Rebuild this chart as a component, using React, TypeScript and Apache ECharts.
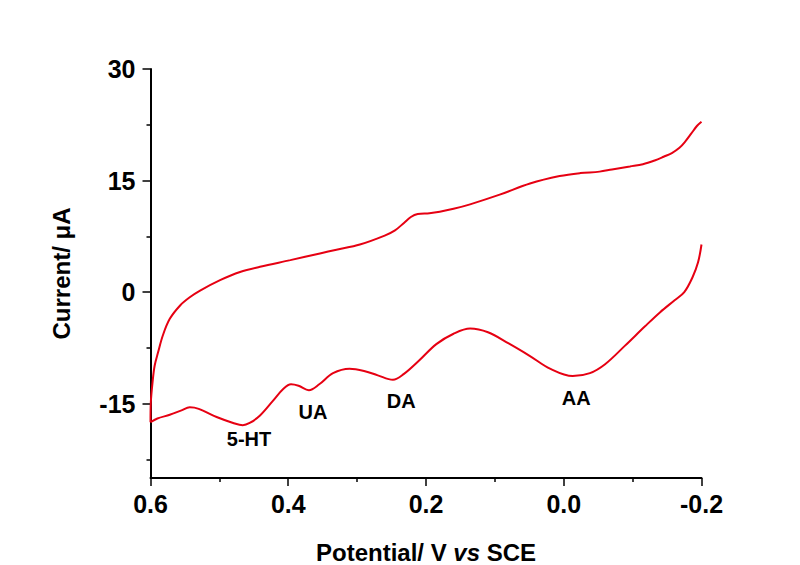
import React, { useEffect, useRef } from "react";
import * as echarts from "echarts";

// Forward (lower) branch: potential (V vs SCE) and current (µA)
const forwardPotential = [
  0.6, 0.59, 0.572, 0.555, 0.543, 0.53, 0.504, 0.48, 0.466, 0.456, 0.441, 0.422, 0.407, 0.396,
  0.385, 0.37, 0.355, 0.335, 0.311, 0.29, 0.27, 0.248, 0.232, 0.21, 0.185, 0.16, 0.136, 0.11,
  0.08, 0.049, 0.02, -0.013, -0.038, -0.06, -0.089, -0.118, -0.14, -0.161, -0.175, -0.187,
  -0.195, -0.2,
];
const forwardCurrent = [
  -17.5, -17.0, -16.5, -15.9, -15.5, -15.7, -16.8, -17.6, -17.9, -17.6, -16.6, -14.6, -13.0,
  -12.4, -12.6, -13.2, -12.4, -10.9, -10.3, -10.6, -11.2, -11.8, -11.0, -9.2, -7.0, -5.6, -4.9,
  -5.4, -6.9, -8.6, -10.3, -11.3, -10.9, -9.7, -7.2, -4.6, -2.7, -1.1, 0.0, 2.0, 4.0, 6.4,
];

// Reverse (upper) branch
const reversePotential = [
  -0.2, -0.193, -0.185, -0.176, -0.168, -0.157, -0.145, -0.132, -0.115, -0.096, -0.07, -0.052,
  -0.024, 0.006, 0.049, 0.093, 0.136, 0.16, 0.18, 0.195, 0.212, 0.222, 0.232, 0.245, 0.26, 0.296,
  0.33, 0.354, 0.397, 0.441, 0.47, 0.499, 0.528, 0.543, 0.557, 0.572, 0.582, 0.589, 0.594, 0.597,
  0.5995, 0.6,
];
const reverseCurrent = [
  22.9, 22.3, 21.3, 20.2, 19.4, 18.7, 18.2, 17.7, 17.2, 16.9, 16.5, 16.2, 16.0, 15.6, 14.6, 13.1,
  11.8, 11.2, 10.8, 10.6, 10.5, 10.1, 9.3, 8.3, 7.6, 6.4, 5.7, 5.2, 4.3, 3.4, 2.7, 1.6, 0.2, -0.7,
  -1.8, -3.6, -5.8, -8.1, -9.9, -12.1, -14.8, -17.5,
];

// Peak annotations
const peakLabels = ["5-HT", "UA", "DA", "AA"];
const peakLabelPotential = [0.457, 0.364, 0.236, -0.018];
const peakLabelCurrent = [-19.7, -16.1, -14.6, -14.2];

// Axis ticks
const yMajorTicks = [-15, 0, 15, 30];
const yMinorTicks = [-22.5, -7.5, 7.5, 22.5];
const xMinorTicks = [0.5, 0.3, 0.1, -0.1];

const FONT = "'Liberation Sans', Arial, sans-serif";
const RED = "#e60012";

export default function App() {
  const ref = useRef<HTMLDivElement>(null);

  useEffect(() => {
    if (!ref.current) return;
    const chart = echarts.init(ref.current, null, { renderer: "svg" });

    const fwd = forwardPotential.map((p, i) => [p, forwardCurrent[i]]);
    const rev = reversePotential.map((p, i) => [p, reverseCurrent[i]]);
    const labels = peakLabels.map((name, i) => ({
      name,
      value: [peakLabelPotential[i], peakLabelCurrent[i]],
    }));

    const tickStyle = { color: "#000", width: 1.5 };

    chart.setOption({
      animation: false,
      backgroundColor: "#ffffff",
      grid: {
        left: 150.5,
        right: 98.5,
        top: 69,
        bottom: 87,
        containLabel: false,
        outerBoundsMode: "none",
      },
      xAxis: [
        {
          type: "value",
          inverse: true,
          min: -0.2,
          max: 0.6,
          interval: 0.2,
          splitLine: { show: false },
          axisLine: { show: true, onZero: false, lineStyle: { color: "#000", width: 2 } },
          axisTick: { show: true, inside: false, length: 8, lineStyle: tickStyle },
          axisLabel: {
            margin: 13,
            color: "#000",
            fontFamily: FONT,
            fontWeight: "bold",
            fontSize: 25,
            formatter: (v: number) => (Math.abs(v) < 1e-9 ? "0.0" : v.toFixed(1)),
          },
          name: "Potential/ V {i|vs} SCE",
          nameLocation: "middle",
          nameGap: 62,
          nameTextStyle: {
            color: "#000",
            fontFamily: FONT,
            fontWeight: "bold",
            fontSize: 24,
            lineHeight: 24,
            rich: {
              i: {
                fontFamily: FONT,
                fontWeight: "bold",
                fontStyle: "italic",
                fontSize: 24,
                lineHeight: 24,
                color: "#000",
              },
            },
          },
        },
        {
          type: "value",
          position: "bottom",
          inverse: true,
          min: -0.2,
          max: 0.6,
          splitLine: { show: false },
          axisLine: { show: false, onZero: false },
          axisLabel: { show: false },
          axisTick: { show: true, inside: false, length: 4, customValues: xMinorTicks, lineStyle: tickStyle },
        },
      ],
      yAxis: [
        {
          type: "value",
          position: "left",
          min: -25,
          max: 30,
          splitLine: { show: false },
          axisLine: { show: true, onZero: false, lineStyle: { color: "#000", width: 2 } },
          axisTick: {
            show: true,
            inside: false,
            length: 8,
            customValues: yMajorTicks,
            lineStyle: tickStyle,
          },
          axisLabel: {
            margin: 15,
            customValues: yMajorTicks,
            color: "#000",
            fontFamily: FONT,
            fontWeight: "bold",
            fontSize: 25,
          },
          name: "Current/ μA",
          nameLocation: "middle",
          nameGap: 77,
          nameTextStyle: { color: "#000", fontFamily: FONT, fontWeight: "bold", fontSize: 24 },
        },
        {
          type: "value",
          position: "left",
          offset: 0,
          min: -25,
          max: 30,
          splitLine: { show: false },
          axisLine: { show: false, onZero: false },
          axisLabel: { show: false },
          axisTick: {
            show: true,
            inside: false,
            length: 4,
            customValues: yMinorTicks,
            lineStyle: tickStyle,
          },
        },
      ],
      series: [
        {
          type: "line",
          data: fwd,
          xAxisIndex: 0,
          yAxisIndex: 0,
          showSymbol: false,
          smooth: 0.35,
          lineStyle: { color: RED, width: 2 },
        },
        {
          type: "line",
          data: rev,
          xAxisIndex: 0,
          yAxisIndex: 0,
          showSymbol: false,
          smooth: 0.35,
          lineStyle: { color: RED, width: 2 },
        },
        {
          type: "scatter",
          data: labels,
          xAxisIndex: 0,
          yAxisIndex: 0,
          symbolSize: 0,
          itemStyle: { opacity: 1 },
          label: {
            show: true,
            position: "inside",
            formatter: "{b}",
            color: "#000",
            opacity: 1,
            fontFamily: FONT,
            fontWeight: "bold",
            fontSize: 20,
          },
        },
      ],
    });

    return () => chart.dispose();
  }, []);

  return (
    <div
      ref={ref}
      style={{ position: "fixed", left: 0, top: 0, width: 800, height: 565 }}
    />
  );
}
